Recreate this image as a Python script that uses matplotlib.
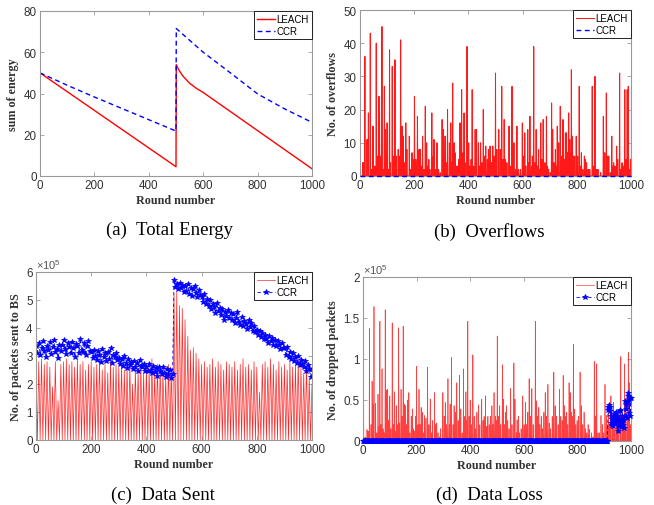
import numpy as np
import matplotlib
matplotlib.use("Agg")
import matplotlib.pyplot as plt

plt.rcParams['font.family'] = ['Liberation Sans', 'DejaVu Sans']
plt.rcParams['mathtext.fontset'] = 'custom'
plt.rcParams['mathtext.rm'] = 'Liberation Sans'

# ---------------- (a) Total energy ----------------
energy_leach_rounds = [0, 500, 501, 510, 525, 550, 575, 600, 1000]
energy_leach = [50, 4.5, 54, 51.5, 48.5, 45, 42.5, 40.5, 3.5]
energy_ccr_rounds = [0, 100, 200, 300, 400, 500, 501, 600, 700, 800, 900, 1000]
energy_ccr = [50, 44, 38.3, 32.8, 27.3, 21.8, 71.5, 60, 50, 39.8, 32.5, 26]

# ---------------- (b) Overflows (LEACH non-zero rounds; CCR = 0) ----------------
ovf_rounds = [1, 10, 13, 18, 26, 31, 38, 44, 48, 55, 60, 65, 70, 72, 76, 81, 85, 90, 94, 100,
              104, 109, 112, 119, 124, 129, 134, 141, 145, 150, 155, 160, 165, 169, 173, 182, 187, 192, 196, 201,
              206, 212, 218, 223, 228, 231, 236, 241, 246, 250, 254, 258, 265, 270, 273, 278, 284, 290, 296, 303,
              308, 314, 318, 323, 330, 335, 338, 342, 347, 351, 358, 365, 369, 375, 380, 384, 388, 395, 401, 405,
              410, 414, 420, 425, 430, 437, 441, 445, 450, 455, 460, 464, 470, 474, 480, 485, 490, 495, 500, 505,
              512, 518, 523, 527, 532, 537, 542, 550, 555, 561, 568, 574, 579, 585, 592, 599, 604, 608, 612, 619,
              623, 627, 633, 636, 641, 646, 650, 655, 659, 663, 667, 671, 676, 682, 688, 692, 696, 702, 707, 711,
              716, 721, 724, 728, 733, 739, 744, 749, 753, 758, 762, 766, 770, 774, 777, 780, 784, 788, 792, 798,
              803, 809, 813, 817, 822, 828, 831, 836, 842, 848, 857, 862, 867, 872, 878, 888, 898, 903, 909, 913,
              918, 924, 929, 933, 936, 941, 947, 951, 958, 962, 967, 972, 977, 982, 986, 990, 994, 998]
ovf_values = [17, 4, 4, 36, 11, 19, 43, 2, 15, 3, 40, 6, 24, 19, 6, 45, 2, 27, 14, 16,
              2, 38, 4, 33, 6, 35, 6, 8, 6, 41, 15, 12, 4, 16, 8, 12, 2, 7, 5, 24,
              5, 18, 8, 8, 3, 12, 2, 21, 10, 3, 5, 2, 19, 6, 11, 2, 10, 2, 1, 17,
              14, 12, 4, 20, 10, 16, 4, 28, 10, 7, 3, 5, 16, 26, 7, 19, 4, 39, 10, 3,
              5, 26, 3, 14, 14, 10, 3, 10, 4, 20, 6, 9, 5, 8, 9, 4, 9, 6, 31, 8,
              14, 8, 27, 5, 17, 5, 4, 15, 3, 27, 10, 2, 15, 2, 2, 16, 6, 13, 3, 14,
              4, 18, 3, 6, 39, 4, 14, 3, 8, 2, 16, 5, 17, 4, 18, 3, 2, 1, 22, 14,
              4, 8, 3, 15, 10, 21, 6, 17, 5, 13, 13, 7, 19, 11, 7, 32, 12, 6, 6, 12,
              6, 27, 3, 7, 2, 6, 5, 4, 2, 2, 27, 3, 30, 2, 2, 1, 18, 7, 25, 6,
              6, 1, 12, 3, 4, 3, 9, 5, 31, 2, 4, 3, 26, 5, 26, 27, 2, 5]

# ---------------- (c) Data sent to BS (x1e4 packets, every 5 rounds) ----------------
sent_rounds = list(range(0, 1001, 5))
leach_sent = [26, 0, 28, 0, 29, 0, 27, 0, 28, 0, 26, 0, 19, 0, 28, 0, 14, 0, 27, 0,
              28, 0, 29, 0, 27, 0, 28, 0, 26, 0, 29, 0, 27, 0, 28, 0, 25, 0, 27, 0,
              28, 0, 26, 0, 27, 0, 29, 0, 25, 0, 27, 0, 24, 0, 28, 0, 26, 0, 27, 0,
              26, 0, 27, 0, 25, 0, 26, 0, 27, 0, 20, 0, 26, 0, 25, 0, 27, 0, 24, 0,
              26, 0, 25, 0, 29, 0, 24, 0, 27, 0, 26, 0, 25, 0, 23, 0, 27, 0, 25, 0,
              52, 0, 53, 0, 48, 0, 47, 0, 43, 0, 37, 0, 32, 0, 33, 0, 31, 0, 29, 0,
              27, 0, 28, 0, 26, 0, 27, 0, 29, 0, 26, 0, 28, 0, 27, 0, 25, 0, 28, 0,
              27, 0, 26, 0, 28, 0, 25, 0, 27, 0, 29, 0, 26, 0, 27, 0, 25, 0, 28, 0,
              26, 0, 17, 0, 27, 0, 28, 0, 26, 0, 29, 0, 27, 0, 25, 0, 28, 0, 26, 0,
              27, 0, 25, 0, 28, 0, 26, 0, 27, 0, 29, 0, 26, 0, 24, 0, 27, 0, 22, 0,
              20]
ccr_sent = [33.5, 31.2, 34.8, 30.5, 32.9, 35.2, 31.8, 29.6, 33.7, 32.1, 34.9, 30.8, 33.2, 35.6, 31.4, 32.6, 29.2, 34.1, 31.9, 33.8,
            35.8, 32.4, 30.6, 34.5, 33.1, 31.2, 35.1, 32.7, 29.8, 34.2, 33.6, 30.9, 35.9, 32.3, 31.5, 34.7, 30.2, 33.4, 35.3, 31.7,
            31.6, 29.4, 32.2, 30.1, 28.7, 31.9, 30.5, 27.9, 32.4, 29.8, 30.9, 28.3, 31.5, 29.1, 32.8, 27.5, 30.2, 29.6, 31.2, 28.4,
            29.3, 27.1, 28.8, 26.4, 30.1, 27.6, 25.8, 28.9, 26.9, 27.8, 25.3, 28.2, 26.1, 27.4, 24.8, 28.6, 26.5, 25.9, 27.2, 24.6,
            26.2, 24.5, 27.3, 25.1, 23.8, 26.6, 24.2, 25.7, 22.9, 26.1, 24.7, 23.4, 25.9, 24.1, 22.6, 25.3, 23.7, 24.9, 22.3, 23.5,
            57.2, 54.6, 55.8, 53.9, 56.1, 54.2, 55.4, 52.8, 54.9, 53.3, 55.6, 52.1, 54.3, 51.6, 53.8, 55.1, 52.4, 50.9, 53.6, 51.8,
            51.2, 49.3, 52.1, 48.6, 50.4, 47.8, 49.9, 46.9, 48.5, 47.4, 45.3, 48.9, 46.2, 47.1, 44.6, 46.8, 42.9, 45.7, 44.2, 46.4,
            43.6, 45.2, 42.8, 44.9, 41.7, 43.4, 45.8, 42.1, 41.2, 43.9, 40.6, 42.5, 41.4, 39.8, 42.9, 40.3, 41.8, 39.1, 40.7, 38.4,
            39.3, 37.6, 38.9, 36.7, 38.1, 35.9, 37.4, 36.2, 34.8, 37.1, 35.3, 36.5, 34.1, 35.8, 33.6, 35.2, 33.9, 32.4, 34.6, 32.9,
            32.8, 30.4, 33.1, 29.6, 31.5, 28.8, 30.9, 28.1, 29.7, 27.4, 29.9, 26.8, 28.5, 27.3, 25.9, 28.1, 24.6, 26.9, 25.3, 22.6,
            25.4]

# ---------------- (d) Dropped packets (x1e5) ----------------
loss_rounds = [2, 8, 15, 19, 24, 30, 34, 37, 41, 47, 52, 56, 60, 63, 67, 71, 75, 79, 83, 88,
               92, 96, 100, 104, 109, 113, 117, 121, 124, 128, 133, 137, 142, 146, 150, 155, 159, 163, 167, 171,
               175, 180, 184, 188, 193, 196, 200, 205, 209, 213, 217, 222, 226, 230, 235, 241, 246, 251, 256, 260,
               267, 271, 275, 280, 285, 290, 298, 303, 307, 312, 317, 322, 325, 330, 336, 340, 345, 350, 355, 360,
               365, 370, 375, 380, 384, 388, 391, 396, 400, 405, 410, 415, 420, 425, 431, 436, 443, 448, 452, 457,
               462, 466, 471, 476, 481, 485, 489, 494, 497, 501, 506, 510, 514, 520, 524, 528, 532, 535, 540, 545,
               551, 556, 563, 567, 572, 575, 580, 584, 590, 596, 601, 606, 610, 615, 620, 625, 630, 635, 643, 648,
               652, 656, 660, 665, 670, 675, 680, 685, 690, 695, 700, 706, 712, 717, 722, 728, 733, 738, 743, 747,
               751, 755, 760, 764, 769, 773, 777, 781, 785, 790, 794, 799, 804, 810, 815, 820, 825, 830, 835, 840,
               845, 852, 858, 863, 868, 872, 877, 882, 888, 893, 898, 903, 908, 912, 916, 921, 925, 930, 935, 940,
               945, 950, 955, 962, 967, 972, 976, 981, 986, 990, 994, 998]
loss_values = [0.76, 0.05, 0.14, 0.12, 1.37, 0.2, 0.73, 0.45, 1.64, 0.46, 0.1, 0.57, 0.18, 1.46, 0.2, 0.88, 0.15, 0.1, 1.6, 0.62,
               0.63, 0.25, 0.55, 0.15, 1.44, 0.2, 0.6, 0.12, 0.43, 0.2, 1.38, 0.22, 0.63, 0.3, 1.4, 0.45, 0.43, 0.2, 0.5, 0.59,
               0.1, 0.3, 0.39, 0.15, 0.12, 0.3, 0.91, 0.2, 0.63, 0.2, 0.41, 0.35, 0.1, 0.31, 0.28, 0.9, 0.2, 0.51, 0.1, 0.25,
               0.59, 0.2, 0.22, 0.1, 0.05, 0.15, 0.59, 0.3, 0.47, 0.2, 0.76, 0.2, 0.45, 1.02, 0.2, 0.43, 0.35, 0.71, 0.25, 0.8,
               0.39, 0.1, 0.88, 0.3, 0.6, 0.25, 1.46, 0.3, 0.5, 0.2, 1.05, 0.3, 0.15, 0.35, 0.44, 0.2, 0.51, 0.25, 0.3, 0.55,
               0.18, 0.3, 0.2, 0.3, 0.43, 0.2, 0.59, 0.3, 0.25, 1.28, 0.3, 0.43, 0.2, 0.93, 0.51, 0.2, 0.35, 0.43, 0.25, 0.15,
               0.64, 0.2, 0.95, 0.51, 0.1, 0.26, 0.3, 0.1, 0.15, 0.55, 0.2, 0.47, 0.2, 0.35, 0.76, 0.3, 0.64, 0.2, 1.46, 0.49,
               0.3, 0.41, 0.2, 0.3, 0.15, 0.35, 0.59, 0.3, 0.69, 0.22, 0.15, 0.3, 0.84, 0.43, 0.3, 0.2, 0.63, 0.3, 0.25, 0.8,
               0.43, 0.3, 0.35, 0.2, 0.71, 0.59, 0.35, 0.3, 1.18, 0.39, 0.2, 0.25, 0.3, 0.84, 0.43, 0.2, 0.35, 0.15, 0.1, 0.2,
               0.14, 0.1, 0.05, 0.97, 0.3, 0.94, 0.1, 0.1, 0.31, 0.2, 0.1, 0.69, 0.31, 0.2, 0.39, 0.2, 0.55, 0.2, 0.47, 0.15,
               0.3, 0.2, 0.35, 1.03, 0.3, 0.2, 0.94, 0.51, 0.3, 1.08, 0.71, 0.2]
ccr_loss_rounds = list(range(0, 1001, 2))
ccr_loss = [0.0] * 457 + [0.38, 0.41, 0.44, 0.36, 0.42, 0.31, 0.22, 0.27, 0.19, 0.24,
                          0.18, 0.29, 0.33, 0.22, 0.28, 0.35, 0.31, 0.26, 0.12, 0.18,
                          0.27, 0.21, 0.36, 0.38, 0.25, 0.17, 0.23, 0.31, 0.2, 0.26,
                          0.16, 0.3, 0.49, 0.44, 0.39, 0.28, 0.47, 0.55, 0.58, 0.5,
                          0.34, 0.53, 0.3, 0.52]

x_ticks = [0, 200, 400, 600, 800, 1000]
RED = '#ff0000'
BLUE = '#0000ff'
SPINE = '#9a9a9a'
TXT = '#333333'
LABEL_FONT = dict(family='Liberation Serif', weight='bold', size=8.7, color='#333333')

W, H = 654, 506
fig = plt.figure(figsize=(W / 100, H / 100), dpi=100)


def box(l, t, r, b):
    return [l / W, 1 - b / H, (r - l) / W, (b - t) / H]


def style(ax, yticks, ylim, ylabel, yticklabels=None):
    ax.set_xlim(0, 1000)
    ax.set_ylim(*ylim)
    ax.set_xticks(x_ticks)
    ax.set_yticks(yticks)
    if yticklabels is not None:
        ax.set_yticklabels(yticklabels)
    ax.tick_params(direction='in', length=3, width=0.6, color=SPINE, labelsize=8.4,
                   labelcolor=TXT, top=True, right=True, pad=2.5)
    for s in ax.spines.values():
        s.set_color(SPINE)
        s.set_linewidth(0.8)
    ax.set_xlabel('Round number', labelpad=2, **LABEL_FONT)
    ax.set_ylabel(ylabel, labelpad=3, **LABEL_FONT)


def legend(ax):
    leg = ax.legend(loc='upper right', borderaxespad=0, fontsize=7, handlelength=1.8,
                    handletextpad=0.2, borderpad=0.3, labelspacing=0.25, fancybox=False,
                    framealpha=1, edgecolor='#222222')
    leg.get_frame().set_linewidth(0.7)


# (a)
axa = fig.add_axes(box(40, 12, 312, 177))
axa.plot(energy_leach_rounds, energy_leach, color=RED, lw=1.0, label='LEACH')
axa.plot(energy_ccr_rounds, energy_ccr, color=BLUE, lw=1.0, ls=(0, (3.5, 2.5)), label='CCR')
style(axa, [0, 20, 40, 60, 80], (0, 80), 'sum of energy')
legend(axa)

# (b)
axb = fig.add_axes(box(360, 11, 631, 177))
ovf = np.zeros(1001)
ovf[ovf_rounds] = ovf_values
axb.plot(np.arange(1001), ovf, color=RED, lw=0.75, alpha=0.9, label='LEACH')
axb.plot([0, 1000], [0, 0], color=BLUE, lw=1.0, ls=(0, (3.5, 2.5)), label='CCR', clip_on=False, zorder=3)
style(axb, [0, 10, 20, 30, 40, 50], (0, 50), 'No. of overflows')
legend(axb)

# (c)
axc = fig.add_axes(box(36, 273, 312, 441))
axc.plot(sent_rounds, leach_sent, color=RED, lw=0.5, alpha=0.85, label='LEACH')
axc.plot(sent_rounds, ccr_sent, color=BLUE, lw=0.6, ls=(0, (4, 3)), marker='*', ms=4.3,
         markeredgewidth=0.5, label='CCR')
style(axc, [0, 10, 20, 30, 40, 50, 60], (0, 60), 'No. of packets sent to BS',
      ['0', '1', '2', '3', '4', '5', '6'])
axc.text(0.0, 1.005, r'$\times10^{5}$', transform=axc.transAxes, fontsize=8, color='#555555',
         ha='left', va='bottom')
legend(axc)

# (d)
axd = fig.add_axes(box(363, 278, 631, 442))
loss = np.zeros(1001)
loss[loss_rounds] = loss_values
axd.plot(np.arange(1001), loss, color=RED, lw=0.5, alpha=0.75, label='LEACH')
axd.plot(ccr_loss_rounds, ccr_loss, color=BLUE, lw=0.6, ls=(0, (4, 3)), marker='*', ms=4,
         markeredgewidth=0.5, label='CCR', clip_on=False, zorder=3)
style(axd, [0, 0.5, 1, 1.5, 2], (0, 2), 'No. of dropped packets', ['0', '0.5', '1', '1.5', '2'])
axd.text(0.0, 1.005, r'$\times10^{5}$', transform=axd.transAxes, fontsize=8, color='#555555',
         ha='left', va='bottom')
legend(axd)

# captions
cap = dict(family='Liberation Serif', size=13.5, ha='center', va='center', color='black')
fig.text(169 / W, 1 - 230 / H, '(a)  Total Energy', **cap)
fig.text(489 / W, 1 - 232 / H, '(b)  Overflows', **cap)
fig.text(163 / W, 1 - 495 / H, '(c)  Data Sent', **cap)
fig.text(489 / W, 1 - 495 / H, '(d)  Data Loss', **cap)

fig.savefig('out.png', dpi=100)
